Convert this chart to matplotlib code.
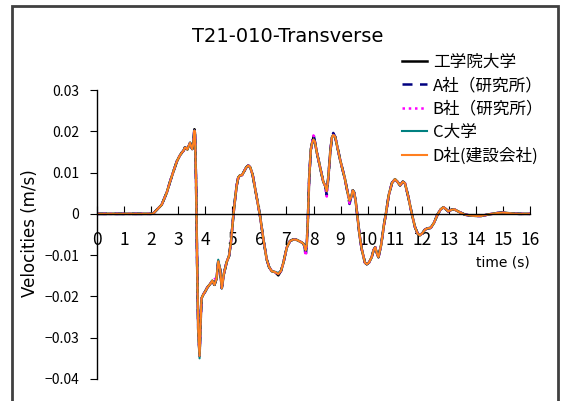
import matplotlib
matplotlib.use("Agg")
import matplotlib.pyplot as plt
from matplotlib.patches import Rectangle

plt.rcParams['font.family'] = ['Noto Sans CJK JP', 'DejaVu Sans']
plt.rcParams['axes.unicode_minus'] = True

title = "T21-010-Transverse"
series_names = ["工学院大学", "A社（研究所）", "B社（研究所）", "C大学", "D社(建設会社)"]
x_label = "time (s)"
y_label = "Velocities (m/s)"
x_ticks = list(range(0, 17))
y_ticks = [-0.04, -0.03, -0.02, -0.01, 0, 0.01, 0.02, 0.03]
y_tick_labels = ["\u22120.04", "\u22120.03", "\u22120.02", "\u22120.01", "0", "0.01", "0.02", "0.03"]

# time (s)
t = [0, 0.5, 1.0, 1.5, 2.0, 2.08, 2.39, 2.58, 2.7, 2.82, 2.95, 3.05, 3.13, 3.2, 3.25,
     3.3, 3.34, 3.38, 3.44, 3.48, 3.52, 3.56, 3.6, 3.62, 3.66, 3.7, 3.74, 3.79, 3.82,
     3.86, 3.93, 4.0, 4.08, 4.18, 4.26, 4.34, 4.42, 4.48, 4.55, 4.61, 4.69, 4.79, 4.88,
     4.95, 5.04, 5.1, 5.16, 5.22, 5.28, 5.36, 5.45, 5.52, 5.59, 5.66, 5.75, 5.84, 5.93,
     6.02, 6.15, 6.27, 6.36, 6.46, 6.58, 6.7, 6.8, 6.89, 7.01, 7.13, 7.25, 7.38, 7.47,
     7.56, 7.62, 7.67, 7.71, 7.75, 7.79, 7.84, 7.9, 7.95, 8.0, 8.05, 8.12, 8.18, 8.27,
     8.36, 8.43, 8.49, 8.55, 8.62, 8.68, 8.73, 8.8, 8.88, 8.98, 9.07, 9.16, 9.25, 9.33,
     9.4, 9.45, 9.5, 9.56, 9.62, 9.7, 9.78, 9.9, 9.97, 10.05, 10.15, 10.22, 10.28, 10.34,
     10.4, 10.5, 10.6, 10.68, 10.78, 10.9, 11.01, 11.1, 11.2, 11.3, 11.38, 11.5, 11.63,
     11.75, 11.85, 11.93, 12.02, 12.12, 12.22, 12.33, 12.45, 12.58, 12.7, 12.8, 12.9,
     12.98, 13.1, 13.2, 13.4, 13.6, 13.8, 14.0, 14.2, 14.5, 14.8, 15.0, 15.3, 15.6, 16.0]

# velocity read for D社 (top-most trace, common shape of all records)
v_common = [0, 0, 0, 0, 0, 0.0001, 0.0022, 0.0052, 0.0078, 0.0102, 0.0127, 0.0140, 0.0148,
            0.0153, 0.0161, 0.0159, 0.0156, 0.0163, 0.0172, 0.0163, 0.0157, 0.0172, 0.0202,
            0.0195, 0.0080, -0.0120, -0.0280, -0.0344, -0.0280, -0.0205, -0.0195, -0.0188,
            -0.0178, -0.0170, -0.0162, -0.0172, -0.0156, -0.0115, -0.0135, -0.0180, -0.0145,
            -0.0117, -0.0102, -0.0068, -0.0003, 0.0035, 0.0068, 0.0088, 0.0093, 0.0094,
            0.0105, 0.0113, 0.0117, 0.0113, 0.0095, 0.0062, 0.0028, -0.0003, -0.0062,
            -0.0110, -0.0129, -0.0139, -0.0141, -0.0146, -0.0138, -0.0118, -0.0082, -0.0066,
            -0.0062, -0.0063, -0.0066, -0.0069, -0.0072, -0.0078, -0.0088, -0.0075, -0.0020,
            0.0085, 0.0155, 0.0172, 0.0180, 0.0175, 0.0150, 0.0132, 0.0105, 0.0078, 0.0068,
            0.0055, 0.0090, 0.0150, 0.0185, 0.0191, 0.0187, 0.0162, 0.0132, 0.0108, 0.0085,
            0.0055, 0.0032, 0.0042, 0.0057, 0.0052, 0.0030, -0.0005, -0.0050, -0.0085,
            -0.0118, -0.0122, -0.0118, -0.0105, -0.0088, -0.0081, -0.0095, -0.0105, -0.0075,
            -0.0028, 0.0002, 0.0045, 0.0075, 0.0084, 0.0078, 0.0069, 0.0078, 0.0074, 0.0042,
            0.0001, -0.0032, -0.0048, -0.0052, -0.0047, -0.0038, -0.0035, -0.0034, -0.0022,
            -0.0002, 0.0011, 0.0016, 0.0011, 0.0006, 0.0010, 0.0011, 0.0004, -0.0002,
            -0.0004, -0.0005, -0.0005, -0.0001, 0.0002, 0.0003, 0.0001, 0.0, 0.0]

# readings where an individual record visibly departs from the common trace
diff_kogakuin = {6.7: -0.0149, 3.6: 0.0205, 8.0: 0.0186}
diff_a = {3.6: 0.0208, 7.71: -0.0105, 8.0: 0.0194, 8.73: 0.0196, 8.49: 0.0045,
          9.33: 0.0024, 3.79: -0.0340}
diff_b = {3.6: 0.0205, 7.71: -0.0102, 8.0: 0.0190, 8.49: 0.0042, 4.34: -0.0158,
          9.33: 0.0026, 10.28: -0.0078}
diff_c = {3.79: -0.0350, 6.7: -0.0143, 4.48: -0.0111}
diff_d = {}

def record(diffs):
    vals = list(v_common)
    for key, val in diffs.items():
        vals[t.index(key)] = val
    return vals

records = [record(diff_kogakuin), record(diff_a), record(diff_b), record(diff_c), record(diff_d)]
colors = ["#000000", "#000080", "#FF00FF", "#008080", "#FF7F1F"]
styles = [dict(ls='-', lw=1.8), dict(ls=(0, (4, 3)), lw=1.8), dict(ls=(0, (1, 1.5)), lw=1.8),
          dict(ls='-', lw=1.5), dict(ls='-', lw=1.5)]

W, H = 563, 401
fig = plt.figure(figsize=(W / 100, H / 100), dpi=100)
ax = fig.add_axes([97 / W, 1 - 379 / H, (530 - 97) / W, (379 - 90) / H])

for vals, name, c, st in zip(records, series_names, colors, styles):
    ax.plot(t, vals, color=c, label=name, **st)

ax.set_xlim(0, 16)
ax.set_ylim(-0.04, 0.03)
ax.spines['top'].set_visible(False)
ax.spines['right'].set_visible(False)
ax.spines['bottom'].set_position(('data', 0))
ax.spines['left'].set_linewidth(1.0)
ax.spines['bottom'].set_linewidth(1.0)
ax.set_xticks(x_ticks)
ax.set_xticklabels([str(v) for v in x_ticks], fontsize=12.5)
ax.set_yticks(y_ticks)
ax.set_yticklabels(y_tick_labels, fontsize=10)
ax.tick_params(axis='x', direction='in', length=6, pad=12)
ax.tick_params(axis='y', direction='out', length=5, pad=8)
for lab in ax.get_yticklabels():
    lab.set_horizontalalignment('right')
ax.patch.set_alpha(0)

fig.text(288 / W, 1 - 36 / H, title, ha='center', va='center', fontsize=14,
         family=['DejaVu Sans'])
fig.text(30 / W, 1 - 233 / H, y_label, ha='center', va='center', rotation=90, fontsize=12,
         family=['DejaVu Sans'])
fig.text(530 / W, 1 - 263 / H, x_label, ha='right', va='center', fontsize=10,
         family=['DejaVu Sans'])

leg = fig.legend(loc='upper left', bbox_to_anchor=(402 / W, 1 - 54 / H), frameon=False,
                 fontsize=12, handlelength=1.5, handletextpad=0.35, labelspacing=0.38,
                 borderpad=0, borderaxespad=0)

fig.patches.append(Rectangle((12 / W, -0.1), (558 - 12) / W, 1.1 - 6 / H,
                             transform=fig.transFigure, fill=False,
                             edgecolor='#404040', linewidth=2))

fig.savefig("out.png", dpi=100)
